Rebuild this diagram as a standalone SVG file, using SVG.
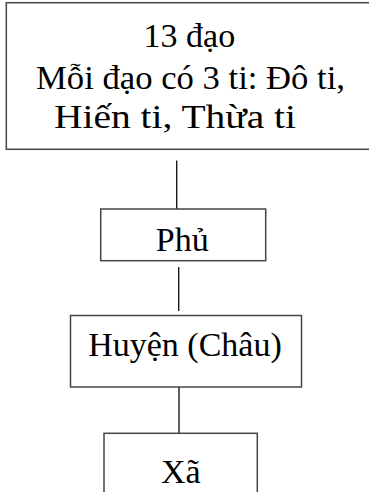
<svg xmlns="http://www.w3.org/2000/svg" width="369" height="492" viewBox="0 0 369 492">
  <style>
    .box { fill: #ffffff; stroke: #444444; stroke-width: 1.5; }
    .link { stroke: #1a1a1a; stroke-width: 1.4; fill: none; }
    .label { font-family: "Liberation Serif", "Times New Roman", serif; font-size: 34px; fill: #000000; text-anchor: middle; }
  </style>
  <rect width="369" height="492" fill="#ffffff"/>

  <!-- connectors between levels -->
  <g id="connectors">
    <line class="link" x1="176.7" y1="160.5" x2="176.7" y2="209"/>
    <line class="link" x1="178.7" y1="267" x2="178.7" y2="311"/>
    <line class="link" x1="179" y1="387" x2="179" y2="433"/>
  </g>

  <g id="dao">
    <rect class="box" x="6.3" y="2.7" width="370" height="146.6"/>
    <text class="label" x="189.4" y="47">13 đạo</text>
    <text class="label" x="190.5" y="89" textLength="309" lengthAdjust="spacingAndGlyphs">Mỗi đạo có 3 ti: Đô ti,</text>
    <text class="label" x="175" y="128" textLength="242" lengthAdjust="spacingAndGlyphs">Hiến ti, Thừa ti</text>
  </g>

  <g id="phu">
    <rect class="box" x="100.7" y="209" width="165" height="51.7"/>
    <text class="label" x="182.3" y="250.5">Phủ</text>
  </g>

  <g id="huyen">
    <rect class="box" x="70.5" y="315.5" width="231" height="71.5"/>
    <text class="label" x="185" y="356">Huyện (Châu)</text>
  </g>

  <g id="xa">
    <rect class="box" x="104" y="433.3" width="153.3" height="70"/>
    <text class="label" x="180.8" y="483">Xã</text>
  </g>
</svg>
